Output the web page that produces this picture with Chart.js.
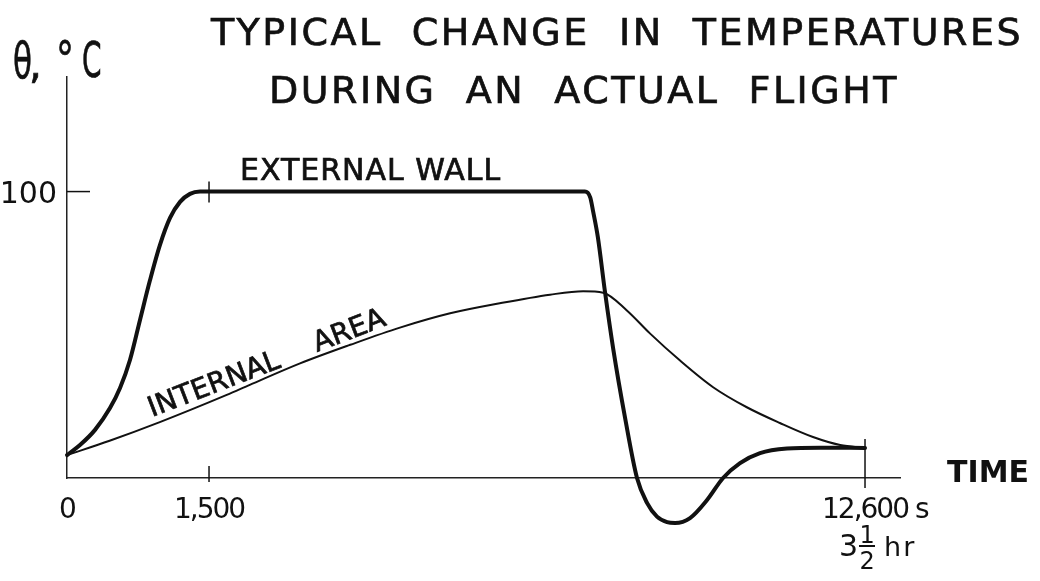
<!DOCTYPE html>
<html lang="en">
<head>
  <meta charset="UTF-8">
  <title>Typical change in temperatures during an actual flight</title>
  <script src="https://cdn.jsdelivr.net/npm/chart.js"></script>
  <style>
    html, body { margin: 0; padding: 0; background: #fff; }
    canvas { display: block; }
  </style>
</head>
<body>
  <canvas id="flightChart" width="1040" height="581"></canvas>

  <script>
    // time in s, temperature in °C
    const wallTimes = [0, 137, 296, 454, 560, 665, 771, 877, 982, 1088, 1194, 1299, 1405, 1500, 4700,
      7860, 7950, 8000, 8080, 8200, 8340, 8540, 8742, 8911, 9080, 9250, 9385, 9639, 9927, 10198,
      10485, 10823, 11280, 11839, 12600];
    const wallTemps = [8, 11.5, 16.8, 24.4, 31.4, 41.2, 55.2, 69.1, 81.4, 90.8, 96.4, 99.2, 100, 100, 100,
      100, 98, 93, 84, 65, 45, 21, 0, -8.7, -13.5, -15.4, -15.7, -14, -7.7, 0,
      5.2, 8.7, 10.3, 10.6, 10.5];

    const innerTimes = [0, 450, 980, 1800, 2190, 3040, 3890, 4730, 5580, 6420, 7270, 7830, 8170,
      8570, 8960, 9470, 10030, 10600, 11160, 11720, 12180, 12600];
    const innerTemps = [8, 13, 19.5, 29, 32.5, 40, 46.5, 52.5, 57.5, 61, 64, 65.2, 64.7,
      58.5, 50.5, 41, 31.7, 24.7, 19.2, 14.3, 11.5, 10.5];

    const xTickValues = [0, 1500, 12600];
    const xTickLabels = ['0', '1,500', '12,600 s'];
    const yTickValues = [100];
    const yTickLabels = ['100'];

    const titleLines = ['TYPICAL  CHANGE  IN  TEMPERATURES', 'DURING  AN  ACTUAL  FLIGHT'];
    const ink = '#111';
    const font = '"DejaVu Sans", sans-serif';

    // the drawing is not to scale in time: the first 1500 s get a stretch of their own
    const timeBreaks = [[0, 0], [1500, 0.1705], [12600, 0.958]];

    function timeToDecimal(t) {
      for (let i = 1; i < timeBreaks.length; i++) {
        if (t <= timeBreaks[i][0] || i === timeBreaks.length - 1) {
          const [t0, d0] = timeBreaks[i - 1];
          const [t1, d1] = timeBreaks[i];
          return d0 + (t - t0) * (d1 - d0) / (t1 - t0);
        }
      }
    }

    function decimalToTime(d) {
      for (let i = 1; i < timeBreaks.length; i++) {
        if (d <= timeBreaks[i][1] || i === timeBreaks.length - 1) {
          const [t0, d0] = timeBreaks[i - 1];
          const [t1, d1] = timeBreaks[i];
          return t0 + (d - d0) * (t1 - t0) / (d1 - d0);
        }
      }
    }

    class BrokenTimeScale extends Chart.LinearScale {
      static id = 'brokenTime';
      static defaults = Chart.LinearScale.defaults;

      getPixelForValue(value) {
        return value === null ? NaN : this.getPixelForDecimal(timeToDecimal(value));
      }

      getValueForPixel(pixel) {
        return decimalToTime(this.getDecimalForPixel(pixel));
      }
    }
    Chart.register(BrokenTimeScale);

    function line(ctx, x1, y1, x2, y2) {
      ctx.beginPath();
      ctx.moveTo(x1, y1);
      ctx.lineTo(x2, y2);
      ctx.stroke();
    }

    // lettering is a bit heavier than the plain font, so give it a thin outline too
    function letter(ctx, txt, tx, ty) {
      ctx.fillText(txt, tx, ty);
      ctx.strokeText(txt, tx, ty);
    }

    // narrow glyphs for the y axis title
    function narrow(ctx, txt, tx, ty, sx) {
      ctx.save();
      ctx.translate(tx, ty);
      ctx.scale(sx, 1);
      letter(ctx, txt, 0, 0);
      ctx.restore();
    }

    // titles, labels and the hand-drawn tick marks
    const drawing = {
      id: 'drawing',
      afterDraw(chart) {
        const { ctx, chartArea: area, scales: { x, y } } = chart;
        ctx.save();
        ctx.fillStyle = ink;
        ctx.strokeStyle = ink;
        ctx.textBaseline = 'alphabetic';
        ctx.lineWidth = 0.7;

        ctx.font = '38px ' + font;
        ctx.letterSpacing = '2.5px';
        ctx.textAlign = 'center';
        letter(ctx, titleLines[0], 617, 45);
        letter(ctx, titleLines[1], 584, 103);

        ctx.textAlign = 'left';
        ctx.letterSpacing = '0px';
        ctx.font = '50px ' + font;
        narrow(ctx, 'θ', 13, 78, 0.62);
        ctx.font = '40px ' + font;
        letter(ctx, ',', 29, 78);
        ctx.font = '50px ' + font;
        narrow(ctx, '°', 56, 77, 0.72);
        narrow(ctx, 'C', 82, 77, 0.56);

        ctx.font = 'bold 30px ' + font;
        ctx.fillText('TIME', 947, 482);

        ctx.font = '30px ' + font;
        ctx.letterSpacing = '1px';
        letter(ctx, 'EXTERNAL WALL', 240, 180);

        ctx.font = '28px ' + font;
        ctx.letterSpacing = '0px';
        const angle = -21 * Math.PI / 180;
        [['INTERNAL', 152, 417], ['AREA', 317, 352]].forEach(([txt, tx, ty]) => {
          ctx.save();
          ctx.translate(tx, ty);
          ctx.rotate(angle);
          letter(ctx, txt, 0, 0);
          ctx.restore();
        });

        // y tick
        ctx.lineWidth = 1.5;
        ctx.font = '30px ' + font;
        ctx.textAlign = 'right';
        yTickValues.forEach((v, i) => {
          const py = y.getPixelForValue(v);
          line(ctx, area.left, py, area.left + 23, py);
          ctx.fillText(yTickLabels[i], area.left - 10, py + 11);
        });

        // x ticks
        ctx.font = '28px ' + font;
        ctx.letterSpacing = '-2px';
        ctx.textAlign = 'left';
        xTickValues.forEach((v, i) => {
          const px = x.getPixelForValue(v);
          const label = xTickLabels[i];
          const num = label.split(' ')[0];
          ctx.fillText(label, px - ctx.measureText(num).width / 2, area.bottom + 40);
        });
        ctx.letterSpacing = '0px';

        const p1500 = x.getPixelForValue(xTickValues[1]);
        const top = y.getPixelForValue(100);
        line(ctx, p1500, area.bottom - 12, p1500, area.bottom + 4);
        line(ctx, p1500, top - 10, p1500, top + 11);

        const pEnd = x.getPixelForValue(xTickValues[2]);
        const yEnd = y.getPixelForValue(wallTemps[wallTemps.length - 1]);
        line(ctx, pEnd, yEnd - 9, pEnd, area.bottom + 10);

        // 3 1/2 hr under the end tick
        ctx.font = '30px ' + font;
        ctx.fillText('3', pEnd - 26, 556);
        ctx.font = '24px ' + font;
        ctx.textAlign = 'center';
        ctx.fillText('1', pEnd + 2, 543);
        ctx.fillText('2', pEnd + 2, 569);
        ctx.lineWidth = 2;
        line(ctx, pEnd - 6, 546, pEnd + 10, 546);
        ctx.textAlign = 'left';
        ctx.font = '27px ' + font;
        ctx.letterSpacing = '2px';
        ctx.fillText('hr', pEnd + 19, 556);

        ctx.restore();
      }
    };

    const ctx = document.getElementById('flightChart').getContext('2d');

    const flightChart = new Chart(ctx, {
      type: 'line',
      data: {
        datasets: [{
          label: 'External wall',
          data: wallTimes.map((t, i) => ({ x: t, y: wallTemps[i] })),
          borderColor: ink,
          borderWidth: 4,
          pointRadius: 0,
          cubicInterpolationMode: 'monotone',
          borderCapStyle: 'round',
          borderJoinStyle: 'round',
          clip: false
        }, {
          label: 'Internal area',
          data: innerTimes.map((t, i) => ({ x: t, y: innerTemps[i] })),
          borderColor: ink,
          borderWidth: 2,
          pointRadius: 0,
          cubicInterpolationMode: 'monotone',
          borderCapStyle: 'round',
          clip: false
        }]
      },
      options: {
        responsive: false,
        animation: false,
        events: [],
        layout: {
          padding: { left: 67, top: 77, right: 140, bottom: 103 }
        },
        plugins: {
          legend: { display: false },
          tooltip: { enabled: false }
        },
        scales: {
          x: {
            type: 'brokenTime',
            min: 0,
            max: 13192,
            grid: { display: false, drawTicks: false },
            ticks: { display: false },
            border: { color: '#222', width: 1.5 }
          },
          y: {
            type: 'linear',
            min: 0,
            max: 140,
            grid: { display: false, drawTicks: false },
            ticks: { display: false },
            border: { color: '#222', width: 1.5 }
          }
        }
      },
      plugins: [drawing]
    });
  </script>
</body>
</html>
